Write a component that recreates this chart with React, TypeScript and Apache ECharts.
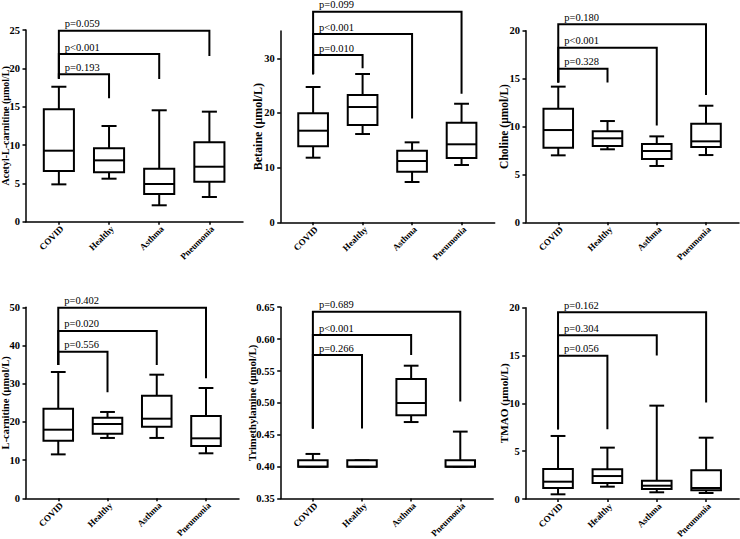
import React, { useEffect, useRef } from 'react';
import * as echarts from 'echarts';

const categories = ['COVID', 'Healthy', 'Asthma', 'Pneumonia'];

// Each box: [min, Q1, median, Q3, max], one per category
const acetylBoxes = [[4.87, 6.61, 9.26, 14.66, 17.6], [5.61, 6.44, 8.0, 9.57, 12.48], [2.14, 3.61, 4.92, 6.91, 14.53], [3.22, 5.22, 7.17, 10.35, 14.35]];
const betaineBoxes = [[11.82, 13.9, 16.76, 19.94, 24.75], [16.15, 17.8, 21.09, 23.28, 27.13], [7.37, 9.26, 11.21, 13.1, 14.63], [10.48, 11.76, 14.27, 18.22, 21.69]];
const cholineBoxes = [[6.99, 7.79, 9.63, 11.86, 14.16], [7.62, 7.96, 8.77, 9.5, 10.57], [5.88, 6.61, 7.44, 8.17, 8.97], [7.02, 7.86, 8.45, 10.29, 12.17]];
const lcarnitineBoxes = [[11.5, 15.08, 17.96, 23.46, 33.06], [15.8, 16.9, 19.45, 21.1, 22.6], [15.8, 18.74, 20.84, 26.86, 32.36], [11.78, 13.69, 15.7, 21.54, 28.87]];
const tmaBoxes = [[0.4, 0.4, 0.4, 0.41, 0.42], [0.4, 0.4, 0.4, 0.41, 0.41], [0.47, 0.4806, 0.4998, 0.5375, 0.5583], [0.4, 0.4, 0.4, 0.41, 0.455]];
const tmaoBoxes = [[0.49, 1.15, 1.81, 3.14, 6.59], [1.29, 1.67, 2.4, 3.1, 5.37], [0.7, 1.05, 1.39, 1.92, 9.76], [0.63, 0.91, 1.15, 3.0, 6.41]];

// Brackets: [target category index, bracket height, end of right drop]
const acetylBrackets = [[1, 19.22, 16.09], [2, 21.87, 18.6], [3, 24.91, 21.6]];
const betaineBrackets = [[1, 30.6, 28.2], [2, 34.44, 19.0], [3, 38.5, 23.5]];
const cholineBrackets = [[1, 16.03, 14.6], [2, 18.23, 10.1], [3, 20.67, 13.3]];
const lcarnitineBrackets = [[1, 38.38, 27.75], [2, 43.8, 34.9], [3, 49.9, 31.4]];
const tmaBrackets = [[1, 0.575, 0.46], [2, 0.6064, 0.575], [3, 0.643, 0.502]];
const tmaoBrackets = [[1, 14.98, 7.3], [2, 17.11, 15.0], [3, 19.52, 10.1]];

// Lower end of the shared left (COVID) vertical
const acetylLeftEnd = 18.65;
const betaineLeftEnd = 27.1;
const cholineLeftEnd = 14.6;
const lcarnitineLeftEnd = 34.9;
const tmaLeftEnd = 0.46;
const tmaoLeftEnd = 7.3;

const acetylP = ['p=0.193', 'p<0.001', 'p=0.059'];
const betaineP = ['p=0.010', 'p<0.001', 'p=0.099'];
const cholineP = ['p=0.328', 'p<0.001', 'p=0.180'];
const lcarnitineP = ['p=0.556', 'p=0.020', 'p=0.402'];
const tmaP = ['p=0.266', 'p<0.001', 'p=0.689'];
const tmaoP = ['p=0.056', 'p=0.304', 'p=0.162'];

const acetylTicks = [0, 5, 10, 15, 20, 25];
const betaineTicks = [0, 10, 20, 30];
const cholineTicks = [0, 5, 10, 15, 20];
const lcarnitineTicks = [0, 10, 20, 30, 40, 50];
const tmaTicks = [0.35, 0.4, 0.45, 0.5, 0.55, 0.6, 0.65];
const tmaoTicks = [0, 5, 10, 15, 20];

const FONT = '"Liberation Serif", "Times New Roman", serif';
const INK = '#000';
const X_MIN = -0.655;
const X_MAX = 3.67;

const panels = [
  { name: 'Acetyl-L-carnitine (μmol/L)', boxes: acetylBoxes, brackets: acetylBrackets, leftEnd: acetylLeftEnd, p: acetylP, ticks: acetylTicks, yMin: 0, yMax: 25, dec: 0, grid: { left: 26, top: 30, width: 217, height: 191.7 }, nameGap: 15.5, nameSize: 10 },
  { name: 'Betaine (μmol/L)', boxes: betaineBoxes, brackets: betaineBrackets, leftEnd: betaineLeftEnd, p: betaineP, ticks: betaineTicks, yMin: 0, yMax: 35, dec: 0, grid: { left: 280.7, top: 31, width: 214, height: 191.3 }, nameGap: 17, nameSize: 12 },
  { name: 'Choline (μmol/L)', boxes: cholineBoxes, brackets: cholineBrackets, leftEnd: cholineLeftEnd, p: cholineP, ticks: cholineTicks, yMin: 0, yMax: 20, dec: 0, grid: { left: 526, top: 30.7, width: 213, height: 191.6 }, nameGap: 16.5, nameSize: 11.5 },
  { name: 'L-carnitine (μmol/L)', boxes: lcarnitineBoxes, brackets: lcarnitineBrackets, leftEnd: lcarnitineLeftEnd, p: lcarnitineP, ticks: lcarnitineTicks, yMin: 0, yMax: 50, dec: 0, grid: { left: 26, top: 307.3, width: 213, height: 191 }, nameGap: 15.5, nameSize: 10.5 },
  { name: 'Trimethylamine (μmol/L)', boxes: tmaBoxes, brackets: tmaBrackets, leftEnd: tmaLeftEnd, p: tmaP, ticks: tmaTicks, yMin: 0.35, yMax: 0.65, dec: 2, grid: { left: 280.7, top: 307.2, width: 212.5, height: 191.4 }, nameGap: 23.5, nameSize: 10.7 },
  { name: 'TMAO (μmol/L)', boxes: tmaoBoxes, brackets: tmaoBrackets, leftEnd: tmaoLeftEnd, p: tmaoP, ticks: tmaoTicks, yMin: 0, yMax: 20, dec: 0, grid: { left: 525.7, top: 307.7, width: 213.5, height: 191.3 }, nameGap: 16, nameSize: 11.2 },
];

function buildOption() {
  const grid: any[] = [];
  const xAxis: any[] = [];
  const yAxis: any[] = [];
  const series: any[] = [];
  const catIdx = categories.map((_, i) => i);

  panels.forEach((pn, k) => {
    grid.push({ ...pn.grid, containLabel: false, outerBoundsMode: 'none' });
    xAxis.push({
      type: 'value', gridIndex: k, min: X_MIN, max: X_MAX,
      axisLine: { show: true, onZero: false, lineStyle: { color: INK, width: 1.5 } },
      axisTick: { show: true, customValues: catIdx, length: 3, lineStyle: { color: INK, width: 1.5 } },
      axisLabel: {
        show: true, customValues: catIdx, rotate: 45, margin: 2.5,
        verticalAlign: 'top',
        formatter: (v: number) => categories[Math.round(v)] ?? '',
        fontFamily: FONT, fontWeight: 'bold', fontSize: 9, lineHeight: 9, color: INK,
      },
      splitLine: { show: false },
    });
    yAxis.push({
      type: 'value', gridIndex: k, min: pn.yMin, max: pn.yMax,
      name: pn.name, nameLocation: 'middle', nameGap: pn.nameGap, nameRotate: 90, nameMoveOverlap: false,
      nameTextStyle: { fontFamily: FONT, fontWeight: 'bold', fontSize: pn.nameSize, color: INK },
      axisLine: { show: true, onZero: false, lineStyle: { color: INK, width: 1.5 } },
      axisTick: { show: true, customValues: pn.ticks, length: 3.5, lineStyle: { color: INK, width: 1.5 } },
      axisLabel: {
        show: true, customValues: pn.ticks, margin: 6,
        formatter: (v: number) => v.toFixed(pn.dec),
        fontFamily: FONT, fontWeight: 'bold', fontSize: 10.5, color: INK,
      },
      splitLine: { show: false },
    });

    series.push({
      type: 'custom', xAxisIndex: k, yAxisIndex: k,
      data: pn.boxes.map((b, i) => [i, ...b]),
      encode: { x: 0, y: [1, 2, 3, 4, 5] },
      renderItem: (params: any, api: any) => {
        const x = api.value(0);
        const pMin = api.coord([x, api.value(1)]);
        const pQ1 = api.coord([x, api.value(2)]);
        const pMed = api.coord([x, api.value(3)]);
        const pQ3 = api.coord([x, api.value(4)]);
        const pMax = api.coord([x, api.value(5)]);
        const unit = api.size([1, 0])[0];
        const bw = unit * 0.3;
        const cw = unit * 0.15;
        const cx = pMin[0];
        const st = { stroke: INK, lineWidth: 2, fill: null };
        return {
          type: 'group',
          children: [
            { type: 'line', shape: { x1: cx, y1: pMax[1], x2: cx, y2: pQ3[1] }, style: st },
            { type: 'line', shape: { x1: cx, y1: pQ1[1], x2: cx, y2: pMin[1] }, style: st },
            { type: 'line', shape: { x1: cx - cw, y1: pMax[1], x2: cx + cw, y2: pMax[1] }, style: st },
            { type: 'line', shape: { x1: cx - cw, y1: pMin[1], x2: cx + cw, y2: pMin[1] }, style: st },
            { type: 'rect', shape: { x: cx - bw, y: pQ3[1], width: 2 * bw, height: pQ1[1] - pQ3[1] }, style: { stroke: INK, lineWidth: 2, fill: '#fff' } },
            { type: 'line', shape: { x1: cx - bw, y1: pMed[1], x2: cx + bw, y2: pMed[1] }, style: st },
          ],
        };
      },
      z: 2,
    });

    series.push({
      type: 'custom', xAxisIndex: k, yAxisIndex: k, clip: false,
      data: pn.brackets.map((b) => [0, b[0], b[1], b[2], pn.leftEnd]),
      encode: { x: [0, 1], y: [2, 3, 4] },
      renderItem: (params: any, api: any) => {
        const x0 = api.value(0);
        const xt = api.value(1);
        const yH = api.value(2);
        const yEnd = api.value(3);
        const yL = api.value(4);
        const a = api.coord([x0, yL]);
        const b = api.coord([x0, yH]);
        const c = api.coord([xt, yH]);
        const d = api.coord([xt, yEnd]);
        return {
          type: 'group',
          children: [
            { type: 'polyline', shape: { points: [a, b, c, d] }, style: { stroke: INK, lineWidth: 2, fill: null } },
            {
              type: 'text', x: b[0] + 6, y: b[1] - 1.5,
              style: { text: pn.p[params.dataIndex], fontFamily: FONT, fontSize: 10.5, fill: INK, align: 'left', verticalAlign: 'bottom' },
            },
          ],
        };
      },
      z: 3,
    });
  });

  return { animation: false, backgroundColor: '#fff', grid, xAxis, yAxis, series };
}

export default function App() {
  const ref = useRef<HTMLDivElement>(null);
  useEffect(() => {
    const chart = echarts.init(ref.current!, null, { renderer: 'svg' });
    chart.setOption(buildOption() as any);
    return () => chart.dispose();
  }, []);
  return <div ref={ref} style={{ position: 'fixed', left: 0, top: 0, width: 740, height: 539, background: '#fff' }} />;
}
